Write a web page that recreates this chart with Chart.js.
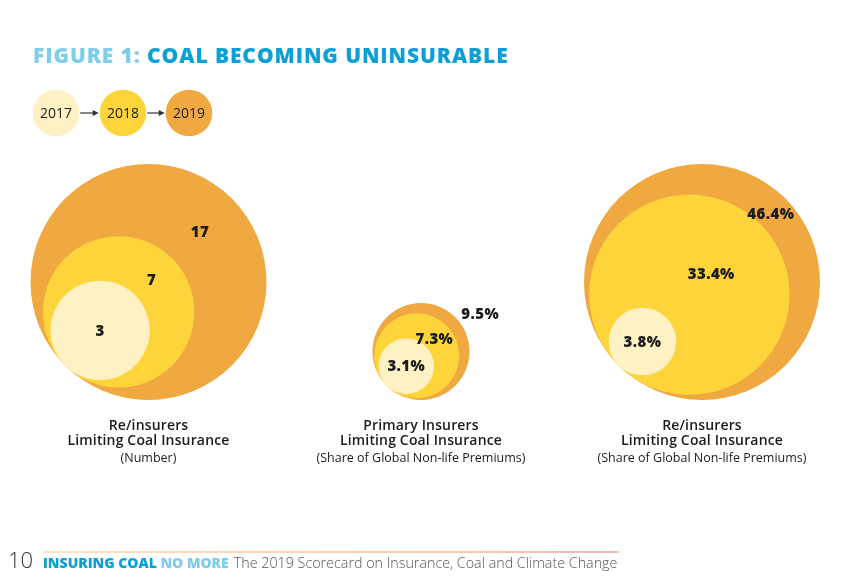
<!DOCTYPE html>
<html>
<head>
<meta charset="utf-8">
<script src="https://cdn.jsdelivr.net/npm/chart.js@4.4.1/dist/chart.umd.min.js"></script>
<style>
  html, body { margin: 0; padding: 0; background: #fff; }
  canvas { display: block; }
</style>
</head>
<body>
<canvas id="coalChart" width="850" height="585"></canvas>
<script>
const years = ["2017", "2018", "2019"];
const groupTitles = ["Re/insurers", "Primary Insurers", "Re/insurers"];
const groupSubtitles = ["Limiting Coal Insurance", "Limiting Coal Insurance", "Limiting Coal Insurance"];
const groupUnits = ["(Number)", "(Share of Global Non-life Premiums)", "(Share of Global Non-life Premiums)"];
const valueSuffix = ["", "%", "%"];

// values in year order 2017, 2018, 2019
const reinsurersNumber = [3, 7, 17];
const primaryShare = [3.1, 7.3, 9.5];
const reinsurersShare = [3.8, 33.4, 46.4];
const groupValues = [reinsurersNumber, primaryShare, reinsurersShare];

const yearColors = ["#FEF1C3", "#FDD53B", "#F0A941"];

// layout, in px (x/y scales are set 1 unit = 1 px)
const groupX = [148.5, 421, 702];
const groupMaxR = [118, 48.5, 118];
const baseY = 400;

// circles of one group touch at the lower left of the biggest one
function bubble(g, i) {
  const vals = groupValues[g];
  const vmax = Math.max(...vals);
  const R = groupMaxR[g];
  const r = R * Math.sqrt(vals[i] / vmax);
  const shift = (R - r) / Math.SQRT2;
  return { x: groupX[g] - shift, y: baseY - R + shift, r: r };
}

const datasets = years.map((yr, i) => ({
  label: yr,
  data: groupValues.map((_, g) => bubble(g, i)),
  backgroundColor: yearColors[i],
  borderWidth: 0,
  clip: false
}));

const SQ = Math.SQRT2;

const valueLabels = {
  id: "valueLabels",
  afterDatasetsDraw(chart) {
    const ctx = chart.ctx;
    ctx.save();
    ctx.font = "800 15px 'Open Sans'";
    ctx.letterSpacing = "0.4px";
    ctx.fillStyle = "#1c1c1c";
    ctx.textBaseline = "middle";
    for (let g = 0; g < groupValues.length; g++) {
      for (let i = 0; i < years.length; i++) {
        const el = chart.getDatasetMeta(i).data[g];
        const r = el.options.radius;
        const txt = groupValues[g][i] + valueSuffix[g];
        if (i === 0) {
          ctx.textAlign = "center";
          ctx.fillText(txt, el.x, el.y + 1);
          continue;
        }
        // put the label in the crescent between this circle and the next smaller one
        const inner = chart.getDatasetMeta(i - 1).data[g];
        const ri = inner.options.radius;
        const ex = el.x + r / SQ, ey = el.y - r / SQ;
        const ix = inner.x + ri / SQ, iy = inner.y - ri / SQ;
        if (Math.hypot(ex - ix, ey - iy) < 20) {
          ctx.textAlign = "left";
          ctx.fillText(txt, ex + 6, ey - 2);
        } else {
          ctx.textAlign = "center";
          ctx.fillText(txt, (ex + ix) / 2 - 2, (ey + iy) / 2 + 4);
        }
      }
    }
    ctx.restore();
  }
};

const decorations = {
  id: "decorations",
  afterDraw(chart) {
    const ctx = chart.ctx;
    const xs = chart.scales.x;
    ctx.save();

    // title
    ctx.textBaseline = "alphabetic";
    ctx.textAlign = "left";
    ctx.font = "800 21px 'Open Sans'";
    ctx.letterSpacing = "0.9px";
    ctx.fillStyle = "#7ECDEA";
    ctx.fillText("FIGURE 1:", 33, 63);
    let w = ctx.measureText("FIGURE 1: ").width;
    ctx.fillStyle = "#0AA0D6";
    ctx.fillText("COAL BECOMING UNINSURABLE", 33 + w, 63);
    ctx.letterSpacing = "0px";

    // year legend
    const lx = [56, 123, 189], ly = 113, lr = 23.3;
    for (let i = 0; i < years.length; i++) {
      ctx.beginPath();
      ctx.arc(lx[i], ly, lr, 0, Math.PI * 2);
      ctx.fillStyle = yearColors[i];
      ctx.fill();
      ctx.font = "14px 'Open Sans'";
      ctx.fillStyle = "#222";
      ctx.textAlign = "center";
      ctx.textBaseline = "middle";
      ctx.fillText(years[i], lx[i], ly + 1);
      if (i < years.length - 1) {
        const a = lx[i] + lr + 1, b = lx[i + 1] - lr - 1;
        ctx.strokeStyle = "#333";
        ctx.lineWidth = 1.2;
        ctx.beginPath();
        ctx.moveTo(a, ly);
        ctx.lineTo(b - 4, ly);
        ctx.stroke();
        ctx.beginPath();
        ctx.moveTo(b, ly);
        ctx.lineTo(b - 6, ly - 3);
        ctx.lineTo(b - 6, ly + 3);
        ctx.closePath();
        ctx.fillStyle = "#333";
        ctx.fill();
      }
    }

    // group captions under circles
    ctx.textAlign = "center";
    ctx.textBaseline = "alphabetic";
    ctx.fillStyle = "#1c1c1c";
    for (let g = 0; g < groupX.length; g++) {
      const cx = xs.getPixelForValue(groupX[g]);
      ctx.font = "600 14px 'Open Sans'";
      ctx.letterSpacing = "0.15px";
      ctx.fillText(groupTitles[g], cx, 430);
      ctx.fillText(groupSubtitles[g], cx, 445);
      ctx.letterSpacing = "0px";
      ctx.font = "12.5px 'Open Sans'";
      ctx.fillText(groupUnits[g], cx, 462);
    }

    // footer
    const grad = ctx.createLinearGradient(43, 0, 619, 0);
    grad.addColorStop(0, "#FBDCA2");
    grad.addColorStop(1, "#F4A68E");
    ctx.strokeStyle = grad;
    ctx.lineWidth = 1.5;
    ctx.beginPath();
    ctx.moveTo(43, 552);
    ctx.lineTo(619, 552);
    ctx.stroke();

    ctx.textAlign = "left";
    ctx.font = "300 22px 'Open Sans'";
    ctx.fillStyle = "#333";
    ctx.fillText("10", 8, 568);

    let x = 43;
    ctx.font = "800 14px 'Open Sans'";
    ctx.fillStyle = "#0AA0D6";
    ctx.fillText("INSURING COAL", x, 568);
    x += ctx.measureText("INSURING COAL ").width;
    ctx.fillStyle = "#7ECDEA";
    ctx.fillText("NO MORE", x, 568);
    x += ctx.measureText("NO MORE").width + 5;
    ctx.font = "300 14.3px 'Open Sans'";
    ctx.fillStyle = "#555";
    ctx.fillText("The 2019 Scorecard on Insurance, Coal and Climate Change", x, 568);

    ctx.restore();
  }
};

new Chart(document.getElementById("coalChart"), {
  type: "bubble",
  data: { datasets },
  options: {
    responsive: false,
    animation: false,
    events: [],
    layout: { padding: 0, autoPadding: false },
    scales: {
      x: { type: "linear", min: 0, max: 850, display: false },
      y: { type: "linear", min: 0, max: 585, reverse: true, display: false }
    },
    plugins: {
      legend: { display: false },
      tooltip: { enabled: false }
    }
  },
  plugins: [valueLabels, decorations]
});
</script>
</body>
</html>
